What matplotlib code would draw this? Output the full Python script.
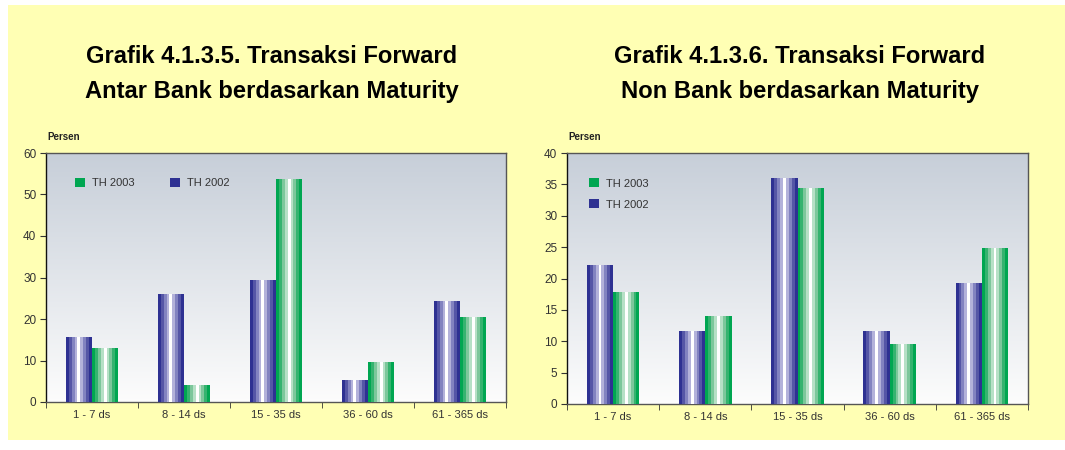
import numpy as np
import matplotlib
matplotlib.use("Agg")
import matplotlib.pyplot as plt
from matplotlib.patches import Rectangle, Patch

plt.rcParams['font.family'] = ['Liberation Sans', 'DejaVu Sans']

categories = ["1 - 7 ds", "8 - 14 ds", "15 - 35 ds", "36 - 60 ds", "61 - 365 ds"]

# Grafik 4.1.3.5 - antar bank
bank_2002 = [15.7, 26.0, 29.4, 5.3, 24.3]
bank_2003 = [13.0, 4.1, 53.7, 9.6, 20.5]

# Grafik 4.1.3.6 - non bank
nonbank_2002 = [22.2, 11.6, 36.0, 11.6, 19.3]
nonbank_2003 = [17.8, 14.0, 34.4, 9.6, 24.9]

title_left = "Grafik 4.1.3.5. Transaksi Forward\nAntar Bank berdasarkan Maturity"
title_right = "Grafik 4.1.3.6. Transaksi Forward\nNon Bank berdasarkan Maturity"

blue_steps = ["#2e3192", "#5556a6", "#8283c0", "#b3b2da", "#ffffff",
              "#b3b2da", "#8283c0", "#5556a6", "#2e3192"]
green_steps = ["#00a651", "#35b36f", "#7cc79b", "#b6e0c6", "#ffffff",
               "#b6e0c6", "#7cc79b", "#35b36f", "#00a651"]
YELLOW = "#ffffb4"
W = 1065
H = 450


def striped_bars(ax, xs, vals, width, steps):
    n = len(steps)
    sw = width / n
    for k, c in enumerate(steps):
        ax.bar(np.asarray(xs) - width / 2 + sw * (k + 0.5), vals, width=sw,
               color=c, linewidth=0, zorder=3)


def draw_chart(ax, v2002, v2003, ymax, step, legend_cols, legend_anchor, lspace):
    x = np.arange(len(categories))
    bw = 0.285
    # gradient background, grey-blue on top fading to white
    grad = np.linspace(0, 1, 256).reshape(-1, 1)
    top = np.array([0.78, 0.81, 0.85])
    bot = np.array([0.99, 0.99, 0.99])
    img = top[None, None, :] * (1 - grad[:, :, None]) + bot[None, None, :] * grad[:, :, None]
    ax.imshow(img, extent=[-0.5, len(categories) - 0.5, 0, ymax], aspect='auto', zorder=0)

    striped_bars(ax, x - bw / 2, v2002, bw, blue_steps)
    striped_bars(ax, x + bw / 2, v2003, bw, green_steps)

    ax.set_xlim(-0.5, len(categories) - 0.5)
    ax.set_ylim(0, ymax)
    ax.set_yticks(np.arange(0, ymax + 1, step))
    ax.set_xticks(x)
    ax.set_xticklabels(categories)
    ax.set_xticks(np.arange(-0.5, len(categories), 1), minor=True)
    ax.tick_params(axis='x', which='major', length=0, pad=6, labelsize=8, colors='#333333')
    ax.tick_params(axis='x', which='minor', length=4, color='#333333')
    ax.tick_params(axis='y', length=4, pad=3, labelsize=8.5, colors='#333333')
    for s in ax.spines.values():
        s.set_color('#555555')
        s.set_linewidth(1)
    ax.spines['left'].set_color('#111111')

    handles = [Patch(facecolor="#00a651", label="TH 2003"),
               Patch(facecolor="#2e3192", label="TH 2002")]
    ax.legend(handles=handles, ncol=legend_cols, frameon=False, loc='upper left',
              bbox_to_anchor=legend_anchor, fontsize=8, handlelength=0.9,
              handleheight=0.9, columnspacing=3.2, labelspacing=lspace,
              handletextpad=0.6, labelcolor='#333333')


fig = plt.figure(figsize=(W / 100, H / 100), dpi=100, facecolor='white')
fig.patches.append(Rectangle((8 / W, 10 / H), (W - 8) / W, 435 / H,
                             transform=fig.transFigure, facecolor=YELLOW,
                             edgecolor='none', zorder=-10))

ax1 = fig.add_axes([46 / W, (H - 402) / H, 460 / W, 249 / H])
ax2 = fig.add_axes([567 / W, (H - 404) / H, 461 / W, 251 / H])

draw_chart(ax1, bank_2002, bank_2003, 60, 10, 2, (0.042, 0.94), 0.7)
draw_chart(ax2, nonbank_2002, nonbank_2003, 40, 5, 1, (0.027, 0.94), 0.95)

fig.text(272 / W, 1 - 74 / H, title_left, ha='center', va='center',
         fontsize=17.1, fontweight='bold', linespacing=1.62)
fig.text(800 / W, 1 - 74 / H, title_right, ha='center', va='center',
         fontsize=17.1, fontweight='bold', linespacing=1.62)
fig.text(47 / W, 1 - 137 / H, "Persen", fontsize=7, fontweight='bold',
         va='center', color='#222222')
fig.text(568 / W, 1 - 137 / H, "Persen", fontsize=7, fontweight='bold',
         va='center', color='#222222')

fig.savefig("out.png", dpi=100, facecolor='white')
